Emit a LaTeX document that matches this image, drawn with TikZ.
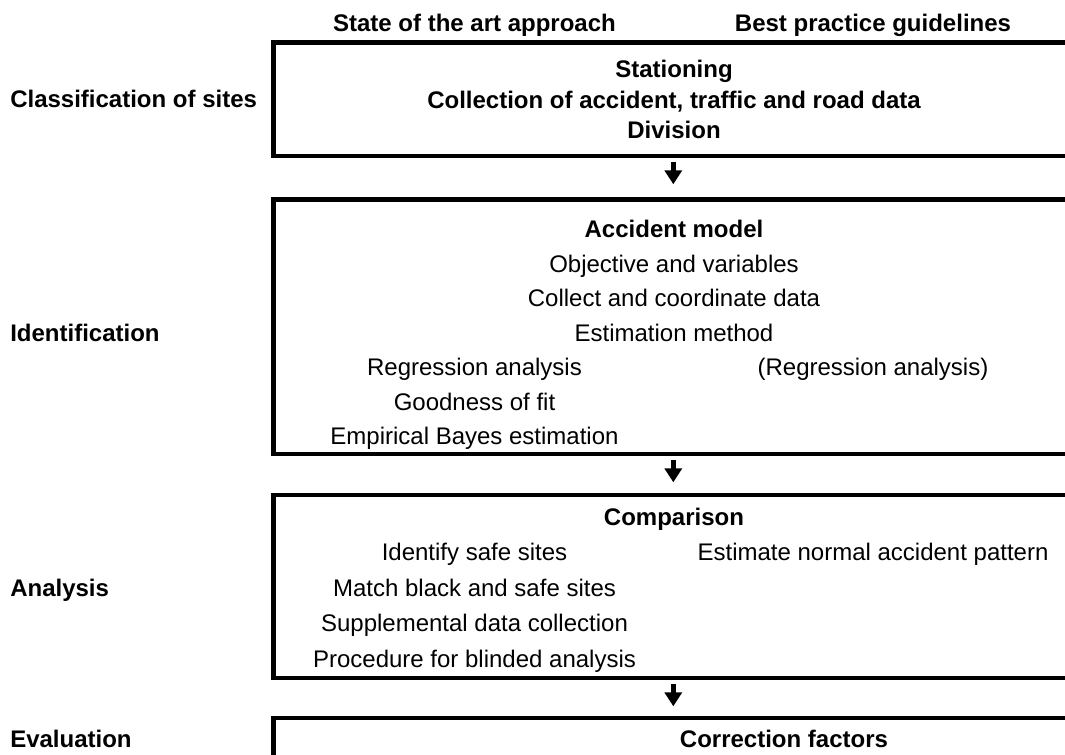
\documentclass[tikz,border=0pt]{standalone}
\usepackage{fontspec}
\setmainfont{Liberation Sans}
\usetikzlibrary{arrows.meta}
\begin{document}
\begin{tikzpicture}[x=0.75pt,y=-0.75pt,
  frame/.style={line width=3.5pt, line join=miter},
  flow/.style={line width=4pt, -{Triangle[width=12.75pt,length=10.5pt]}},
  bt/.style={font=\fontsize{18}{21}\selectfont\bfseries, anchor=base, inner sep=0pt},
  rt/.style={font=\fontsize{18}{21}\selectfont, anchor=base, inner sep=0pt},
  lbl/.style={bt, anchor=base west}]
\useasboundingbox (0,0) rectangle (1065,755);
\clip (0,0) rectangle (1065,755);

% column centres
\def\colL{474.5}
\def\colM{674}
\def\colR{873}

% column headings
\node[bt] (hL) at (\colL,31.5) {State of the art approach};
\node[bt] (hR) at (\colR,31.5) {Best practice guidelines};

% phase labels
\node[lbl] (pClass) at (10,108) {Classification of sites};
\node[lbl] (pIdent) at (10,341.5) {Identification};
\node[lbl] (pAnal)  at (10,596.5) {Analysis};
\node[lbl] (pEval)  at (10,748) {Evaluation};

% phase frames (open to the right)
\draw[frame] (1080,42.5) -- (273.5,42.5) -- (273.5,156) -- (1080,156);
\draw[frame] (1080,199.5) -- (273.5,199.5) -- (273.5,454) -- (1080,454);
\draw[frame] (1080,495) -- (273.5,495) -- (273.5,678) -- (1080,678);
\draw[frame] (1080,718) -- (273.5,718) -- (273.5,770);

% classification of sites
\node[bt] (c1) at (\colM,78) {Stationing};
\node[bt] (c2) at (\colM,108.3) {Collection of accident, traffic and road data};
\node[bt] (c3) at (\colM,138.5) {Division};

% identification
\node[bt] (i1) at (\colM,238) {Accident model};
\node[rt] (i2) at (\colM,272.5) {Objective and variables};
\node[rt] (i3) at (\colM,307) {Collect and coordinate data};
\node[rt] (i4) at (\colM,341.5) {Estimation method};
\node[rt] (i5) at (\colL,376) {Regression analysis};
\node[rt] (i5r) at (\colR,376) {(Regression analysis)};
\node[rt] (i6) at (\colL,410.5) {Goodness of fit};
\node[rt] (i7) at (\colL,445) {Empirical Bayes estimation};

% analysis
\node[bt] (a1) at (\colM,525.5) {Comparison};
\node[rt] (a2) at (\colL,561) {Identify safe sites};
\node[rt] (a2r) at (\colR,561) {Estimate normal accident pattern};
\node[rt] (a3) at (\colL,596.5) {Match black and safe sites};
\node[rt] (a4) at (\colL,632) {Supplemental data collection};
\node[rt] (a5) at (\colL,667.5) {Procedure for blinded analysis};

% evaluation
\node[bt] (e1) at (784,748) {Correction factors};

% flow between phases
\coordinate (f1s) at (673.3,161.7); \coordinate (f1e) at (673.3,184.3);
\coordinate (f2s) at (673.3,459.7); \coordinate (f2e) at (673.3,482.3);
\coordinate (f3s) at (673.3,683.7); \coordinate (f3e) at (673.3,706.3);
\draw[flow] (f1s) -- (f1e);
\draw[flow] (f2s) -- (f2e);
\draw[flow] (f3s) -- (f3e);
\end{tikzpicture}
\end{document}
